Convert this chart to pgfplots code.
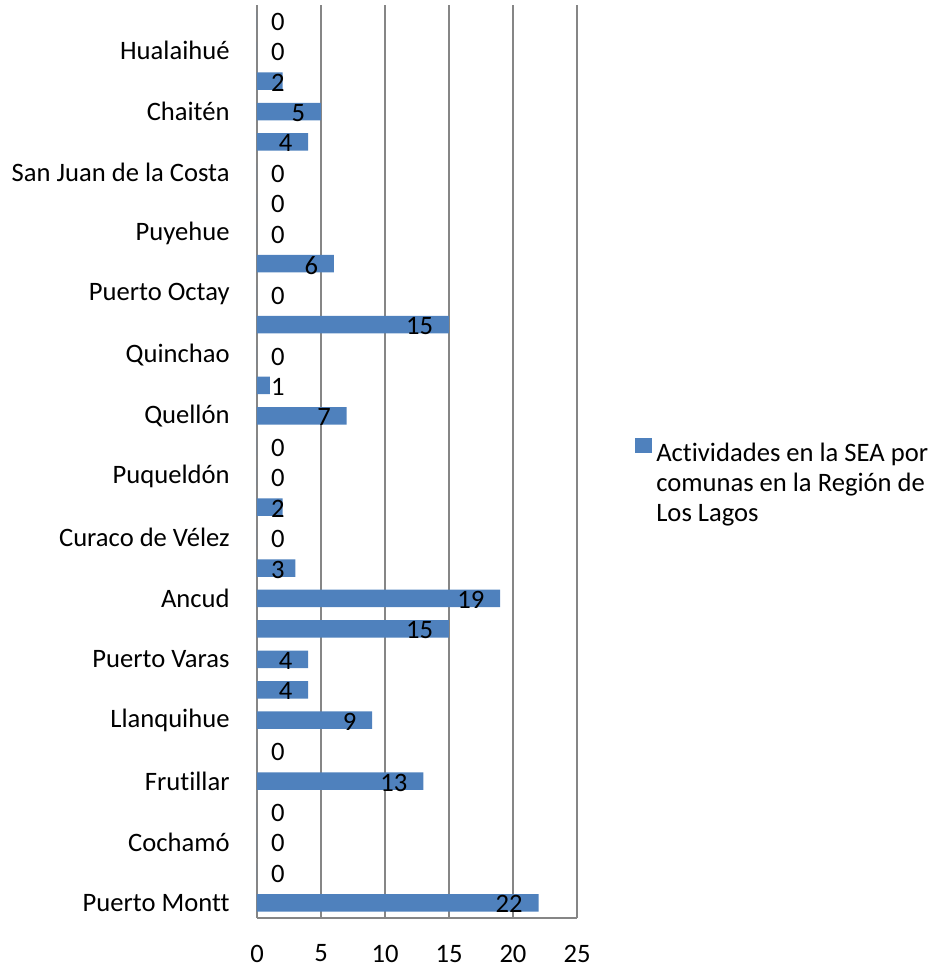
\documentclass[border=0pt]{standalone}
\usepackage{fontspec}
\setmainfont{Carlito}[Ligatures=NoCommon]
\usepackage{pgfplots}
\usepackage{pgfplotstable}
\pgfplotsset{compat=1.18}
\definecolor{barblue}{HTML}{4F81BD}
\definecolor{gridgray}{HTML}{868686}

% y = row from the bottom, v = value, lx = where the data label sits
\pgfplotstableread{
y v lx
0 22 19.70
1 0 1.64
2 0 1.64
3 0 1.64
4 13 10.70
5 0 1.64
6 9 7.24
7 4 2.24
8 4 2.24
9 15 12.70
10 19 16.70
11 3 1.64
12 0 1.64
13 2 1.64
14 0 1.64
15 0 1.64
16 7 5.24
17 1 1.64
18 0 1.64
19 15 12.70
20 0 1.64
21 6 4.24
22 0 1.64
23 0 1.64
24 0 1.64
25 4 2.24
26 5 3.24
27 2 1.64
28 0 1.64
29 0 1.64
}\comunas

\begin{document}
\begin{tikzpicture}
\useasboundingbox (-128.5pt,-24pt) rectangle (337.5pt,459pt);
\begin{axis}[
    scale only axis,
    width=160pt,
    height=456.5pt,
    xmin=0, xmax=25,
    ymin=-0.5, ymax=29.5,
    xtick={0,5,...,25},
    ytick={0,2,...,28},
    yticklabels={Puerto Montt,Cochamó,Frutillar,Llanquihue,Puerto Varas,Ancud,
      Curaco de Vélez,Puqueldón,Quellón,Quinchao,Puerto Octay,Puyehue,
      San Juan de la Costa,Chaitén,Hualaihué},
    axis x line*=bottom,
    axis y line*=left,
    axis line style={gridgray, line width=0.9pt},
    xmajorgrids,
    grid style={gridgray, line width=0.9pt},
    major tick length=0pt,
    font=\fontsize{13.3}{15}\selectfont,
    /pgf/number format/assume math mode=true,
    yticklabel style={anchor=east, inner sep=0pt, xshift=-13.5pt},
    xticklabel style={anchor=north, inner sep=0pt, yshift=-13.25pt},
    legend style={draw=none, fill=none, inner sep=0pt,
      at={(axis description cs:1.181,0.5257)}, anchor=north west,
      cells={align=left}, font=\fontsize{13.3}{15}\selectfont},
    legend cell align=left,
    legend image code/.code={\fill[#1] (0pt,15pt) rectangle (8.5pt,22.5pt);},
]
\addplot[xbar, bar width=8.75pt, fill=barblue, draw=none]
    table[x=v, y=y] {\comunas};
\addlegendentry{Actividades en la SEA por\\comunas en la Región de\\Los Lagos}
\addplot[draw=none, mark=none, forget plot,
    nodes near coords, point meta=explicit symbolic,
    nodes near coords style={anchor=center, inner sep=0pt, yshift=-0.75pt,
      font=\fontsize{13.3}{15}\selectfont}]
    table[x=lx, y=y, meta=v] {\comunas};
\end{axis}
\end{tikzpicture}
\end{document}
